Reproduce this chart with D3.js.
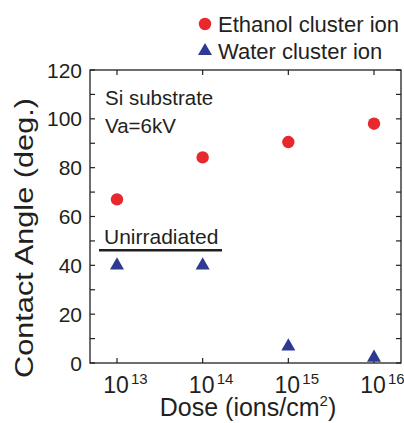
<!DOCTYPE html>
<html>
<head>
<meta charset="utf-8">
<script src="https://cdn.jsdelivr.net/npm/d3@7"></script>
<style>
  body { margin: 0; background: #fff; }
  svg { font-family: "Liberation Sans", Arial, sans-serif; }
</style>
</head>
<body>
<div id="chart"></div>
<script>
const doses = [1e13, 1e14, 1e15, 1e16];
const ethanolAngles = [67, 84.2, 90.5, 98];
const waterAngles = [40, 40, 6.8, 2.2];
const unirradiated = 46.2;
const yTicks = [0, 20, 40, 60, 80, 100, 120];
const yMinorTicks = d3.range(0, 121, 10);
const xExponents = [13, 14, 15, 16];

const width = 404, height = 423;
const margin = { top: 70, right: 3, bottom: 60, left: 90 };
const ink = "#231f20";
const red = "#e8282c";
const blue = "#2e3a92";

const svg = d3.select("#chart").append("svg")
  .attr("width", width).attr("height", height);

const x = d3.scaleLog()
  .domain([Math.pow(10, 12.685), Math.pow(10, 16.315)])
  .range([margin.left, width - margin.right]);
const y = d3.scaleLinear()
  .domain([0, 120])
  .range([height - margin.bottom, margin.top]);

const x0 = x.range()[0], x1 = x.range()[1];
const y0 = y.range()[0], y1 = y.range()[1];

// frame
svg.append("rect")
  .attr("x", x0).attr("y", y1)
  .attr("width", x1 - x0).attr("height", y0 - y1)
  .attr("fill", "none").attr("stroke", ink).attr("stroke-width", 1.3);

const tickLen = 5;
// y ticks both sides, inward
yMinorTicks.forEach(v => {
  svg.append("line").attr("x1", x0).attr("x2", x0 + tickLen)
    .attr("y1", y(v)).attr("y2", y(v)).attr("stroke", ink).attr("stroke-width", 1.2);
  svg.append("line").attr("x1", x1).attr("x2", x1 - tickLen)
    .attr("y1", y(v)).attr("y2", y(v)).attr("stroke", ink).attr("stroke-width", 1.2);
});
// x ticks top and bottom, inward
doses.forEach(d => {
  svg.append("line").attr("x1", x(d)).attr("x2", x(d))
    .attr("y1", y0).attr("y2", y0 - tickLen).attr("stroke", ink).attr("stroke-width", 1.2);
  svg.append("line").attr("x1", x(d)).attr("x2", x(d))
    .attr("y1", y1).attr("y2", y1 + tickLen).attr("stroke", ink).attr("stroke-width", 1.2);
});

// y tick labels
svg.selectAll(".ylab").data(yTicks).enter().append("text")
  .attr("class", "ylab")
  .attr("x", x0 - 8).attr("y", d => y(d) + 7.5)
  .attr("text-anchor", "end")
  .attr("font-size", 21).attr("fill", ink)
  .text(d => d);

// x tick labels 10^n
doses.forEach((d, i) => {
  svg.append("text")
    .attr("x", x(d) - 1).attr("y", y0 + 30)
    .attr("text-anchor", "middle")
    .attr("font-size", 23).attr("fill", ink)
    .text("10");
  svg.append("text")
    .attr("x", x(d) + 14).attr("y", y0 + 21)
    .attr("font-size", 15).attr("fill", ink)
    .text(xExponents[i]);
});

// axis titles
const xt = svg.append("text")
  .attr("x", 248).attr("y", 416)
  .attr("text-anchor", "middle")
  .attr("font-size", 25).attr("fill", ink);
xt.append("tspan").text("Dose (ions/cm");
xt.append("tspan").attr("font-size", 15).attr("dy", -10).text("2");
xt.append("tspan").attr("dy", 10).text(")");

svg.append("text")
  .attr("transform", "translate(33,238) rotate(-90)")
  .attr("text-anchor", "middle")
  .attr("font-size", 26).attr("fill", ink)
  .attr("textLength", 280).attr("lengthAdjust", "spacingAndGlyphs")
  .text("Contact Angle (deg.)");

// annotations
svg.append("text").attr("x", 105).attr("y", 105)
  .attr("font-size", 20.5).attr("fill", ink).text("Si substrate");
svg.append("text").attr("x", 105).attr("y", 133)
  .attr("font-size", 20.5).attr("fill", ink).text("Va=6kV");

svg.append("text").attr("x", 104).attr("y", 244)
  .attr("font-size", 21).attr("fill", ink).text("Unirradiated");
svg.append("line")
  .attr("x1", 99).attr("x2", 222)
  .attr("y1", y(unirradiated)).attr("y2", y(unirradiated))
  .attr("stroke", ink).attr("stroke-width", 2.5);

// data
const tri = d3.symbol().type(d3.symbolTriangle).size(85);

svg.selectAll(".eth").data(doses).enter().append("circle")
  .attr("class", "eth")
  .attr("cx", d => x(d))
  .attr("cy", (d, i) => y(ethanolAngles[i]))
  .attr("r", 6.2)
  .attr("fill", red);

svg.selectAll(".wat").data(doses).enter().append("path")
  .attr("class", "wat")
  .attr("d", tri)
  .attr("transform", (d, i) => `translate(${x(d)},${y(waterAngles[i])})`)
  .attr("fill", blue);

// legend
svg.append("circle").attr("cx", 205).attr("cy", 24).attr("r", 6.2).attr("fill", red);
svg.append("text").attr("x", 218).attr("y", 32)
  .attr("font-size", 22).attr("fill", ink).text("Ethanol cluster ion");
svg.append("path").attr("d", tri)
  .attr("transform", "translate(205,51)").attr("fill", blue);
svg.append("text").attr("x", 218).attr("y", 59)
  .attr("font-size", 22).attr("fill", ink).text("Water cluster ion");
</script>
</body>
</html>
